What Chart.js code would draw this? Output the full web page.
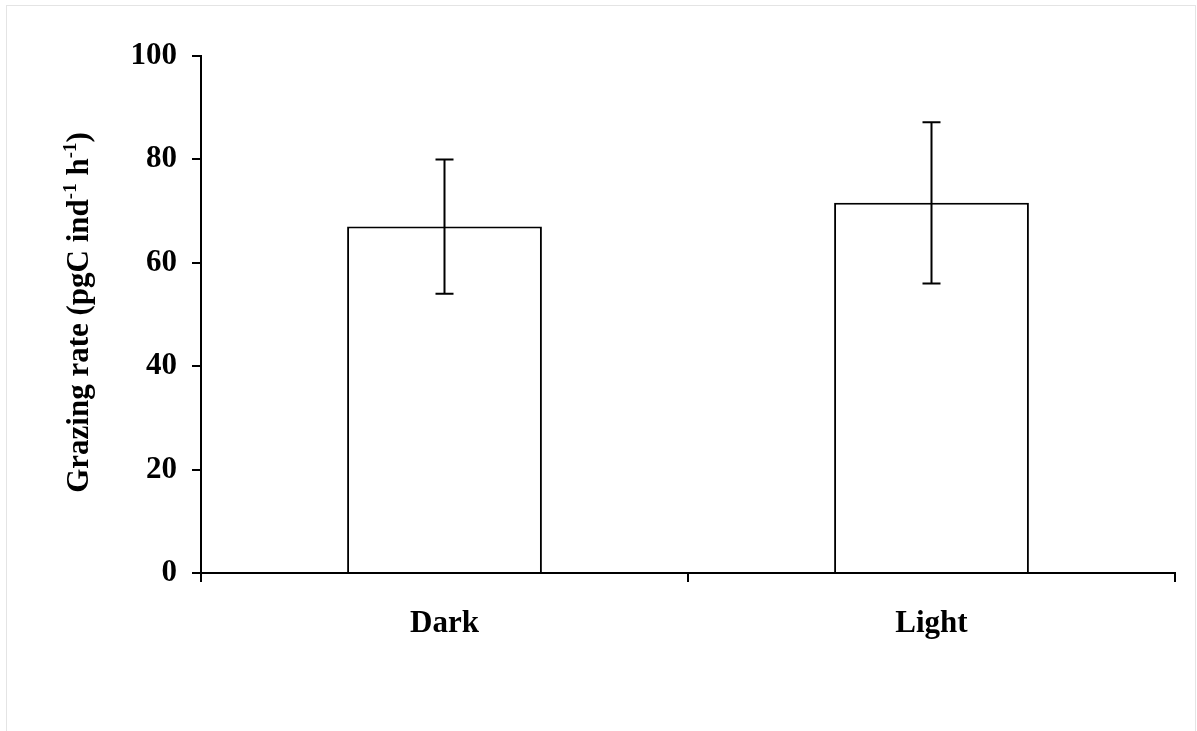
<!DOCTYPE html>
<html lang="en">
<head>
  <meta charset="UTF-8">
  <title>Grazing rate</title>
  <script src="https://cdn.jsdelivr.net/npm/chart.js"></script>
  <style>
    html, body { margin: 0; padding: 0; background: #fff; }
    #wrap { position: relative; width: 1197px; height: 731px; }
    #frame {
      position: absolute; left: 6px; top: 5px; width: 1188px; height: 740px;
      border: 1px solid #e4e4e4; pointer-events: none;
    }
  </style>
</head>
<body>
  <div id="wrap">
    <canvas id="grazingChart" width="1197" height="731"></canvas>
    <div id="frame"></div>
  </div>

  <script>
    // Dados
    const categories = ['Dark', 'Light'];
    const grazingMeans = [67, 71.6];
    const grazingErrors = [13, 15.6];
    const yTicks = [0, 20, 40, 60, 80, 100];

    const FONT = "'Liberation Serif', 'Times New Roman', serif";

    // Barras de erro
    const errorBars = {
      id: 'errorBars',
      afterDatasetsDraw(chart) {
        const ctx = chart.ctx;
        const meta = chart.getDatasetMeta(0);
        const y = chart.scales.y;
        ctx.save();
        ctx.strokeStyle = '#000';
        ctx.lineWidth = 2;
        meta.data.forEach((bar, i) => {
          const top = y.getPixelForValue(grazingMeans[i] + grazingErrors[i]);
          const bottom = y.getPixelForValue(grazingMeans[i] - grazingErrors[i]);
          const x = bar.x;
          ctx.beginPath();
          ctx.moveTo(x, top); ctx.lineTo(x, bottom);
          ctx.moveTo(x - 9, top); ctx.lineTo(x + 9, top);
          ctx.moveTo(x - 9, bottom); ctx.lineTo(x + 9, bottom);
          ctx.stroke();
        });
        ctx.restore();
      }
    };

    // Título do eixo Y com sobrescritos
    const yTitle = {
      id: 'yTitle',
      afterDraw(chart) {
        const ctx = chart.ctx;
        const area = chart.chartArea;
        const parts = [
          ['Grazing rate (pgC ind', false],
          ['-1', true],
          [' h', false],
          ['-1', true],
          [')', false]
        ];
        const big = 'bold 31px ' + FONT;
        const small = 'bold 19px ' + FONT;
        ctx.save();
        let total = 0;
        parts.forEach(p => { ctx.font = p[1] ? small : big; total += ctx.measureText(p[0]).width; });
        ctx.translate(88, (area.top + area.bottom) / 2 - 2);
        ctx.rotate(-Math.PI / 2);
        ctx.fillStyle = '#000';
        ctx.textBaseline = 'alphabetic';
        let x = -total / 2;
        parts.forEach(p => {
          ctx.font = p[1] ? small : big;
          ctx.fillText(p[0], x, p[1] ? -12 : 0);
          x += ctx.measureText(p[0]).width;
        });
        ctx.restore();
      }
    };

    const ctx = document.getElementById('grazingChart').getContext('2d');
    new Chart(ctx, {
      type: 'bar',
      data: {
        labels: categories,
        datasets: [{
          label: 'Grazing rate',
          data: grazingMeans,
          backgroundColor: '#fff',
          borderColor: '#000',
          borderWidth: 2,
          barPercentage: 0.4,
          categoryPercentage: 1
        }]
      },
      options: {
        responsive: false,
        animation: false,
        devicePixelRatio: 1,
        layout: { padding: { left: 0, right: 22, top: 56, bottom: 0 } },
        plugins: {
          legend: { display: false },
          tooltip: { enabled: false }
        },
        scales: {
          x: {
            offset: true,
            grid: {
              offset: true,
              drawOnChartArea: false,
              drawTicks: true,
              tickLength: 9,
              color: '#000',
              lineWidth: 2
            },
            border: { display: true, color: '#000', width: 2 },
            ticks: {
              color: '#000',
              padding: 23,
              font: { family: FONT, size: 31, weight: 'bold' }
            },
            afterFit(scale) { scale.height = 731 - 573; }
          },
          y: {
            min: 0,
            max: 100,
            afterBuildTicks(scale) { scale.ticks = yTicks.map(v => ({ value: v })); },
            grid: {
              drawOnChartArea: false,
              drawTicks: true,
              tickLength: 9,
              color: '#000',
              lineWidth: 2
            },
            border: { display: true, color: '#000', width: 2 },
            ticks: {
              color: '#000',
              padding: 15,
              font: { family: FONT, size: 31, weight: 'bold' }
            },
            afterFit(scale) { scale.width = 201; }
          }
        }
      },
      plugins: [errorBars, yTitle]
    });
  </script>
</body>
</html>
